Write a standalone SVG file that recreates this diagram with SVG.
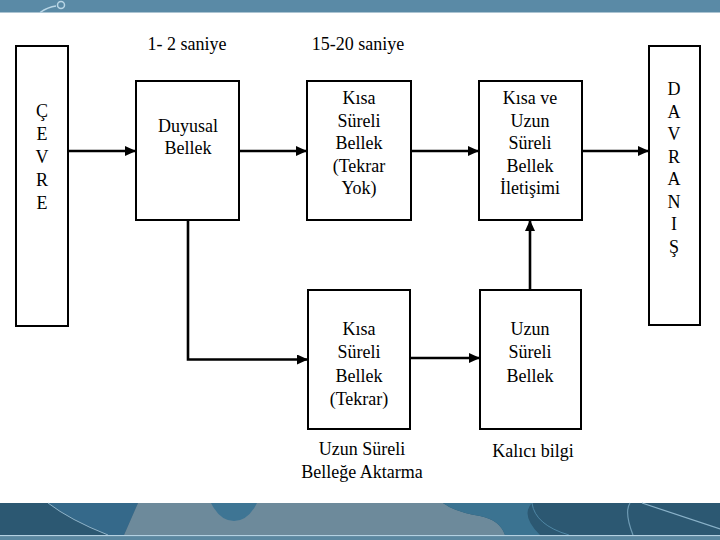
<svg xmlns="http://www.w3.org/2000/svg" width="720" height="540" viewBox="0 0 720 540">
<defs>
<style>
.box{fill:#fff;stroke:#000;stroke-width:2}
.t{font-family:'Liberation Serif','DejaVu Serif','Times New Roman',serif;font-size:18px;fill:#000;text-anchor:middle}
.c{fill:none;stroke:#000;stroke-width:2.6}
</style>
<marker id="ah" markerUnits="userSpaceOnUse" markerWidth="12" markerHeight="10" refX="11" refY="5" orient="auto">
<path d="M0,0 L11,5 L0,10 z" fill="#000"/>
</marker>
</defs>
<rect width="720" height="540" fill="#fff"/>
<g id="topband">
<rect x="0" y="0" width="720" height="12.5" fill="#5a8aa6"/>
<path d="M40,12.5 Q48,7 56,6" fill="none" stroke="#b9d6e6" stroke-width="1.5"/>
<circle cx="61" cy="5" r="3.5" fill="none" stroke="#b9d6e6" stroke-width="1.5"/>
</g>
<g id="bottomband">
<rect x="0" y="503" width="720" height="37" fill="#2c5872"/>
<path d="M48,503 Q70,520 108,535 L124,535 L138,503 z" fill="#35698a"/>
<path d="M138,503 L124,535 L505,535 Q500,520 480,516 Q455,512 443,503 z" fill="#6d8a9b"/>
<path d="M211,503 Q220,521 234,521 Q248,521 257,503 z" fill="#3e7594"/>
<path d="M443,503 Q455,512 480,516 Q500,520 505,535 L540,535 Q520,515 532,503 z" fill="#3b7391"/>
<path d="M48,503 Q70,520 108,535" fill="none" stroke="#8fb3c8" stroke-width="1"/>
<path d="M532,503 Q535,525 569,535" fill="none" stroke="#4f87a5" stroke-width="1"/>
<path d="M630,503 Q624,512 633,535" fill="none" stroke="#6e9bb4" stroke-width="1.2"/>
<path d="M642,503 L720,529" fill="none" stroke="#8ab2c9" stroke-width="1.2"/>
<rect x="0" y="535" width="720" height="1.5" fill="#b4d1e2"/>
<rect x="0" y="536.5" width="720" height="3.5" fill="#5a87a0"/>
</g>
<g id="labels" font-family="Liberation Serif, DejaVu Serif, serif">
<text class="t" x="187" y="50">1- 2 saniye</text>
<text class="t" x="358" y="50">15-20 saniye</text>
</g>
<g id="connectors">
<line class="c" x1="68" y1="151" x2="136" y2="151" marker-end="url(#ah)"/>
<line class="c" x1="239" y1="151" x2="307" y2="151" marker-end="url(#ah)"/>
<line class="c" x1="411" y1="151" x2="479" y2="151" marker-end="url(#ah)"/>
<line class="c" x1="582" y1="151" x2="649" y2="151" marker-end="url(#ah)"/>
<polyline class="c" points="188,220 188,359.5 308,359.5" stroke-width="3" marker-end="url(#ah)"/>
<line class="c" x1="410" y1="358" x2="480" y2="358" stroke-width="3" marker-end="url(#ah)"/>
<line class="c" x1="530" y1="290" x2="530" y2="220" marker-end="url(#ah)"/>
</g>
<g id="cevre">
<rect class="box" x="16" y="46" width="52" height="280"/>
<text class="t" x="42" y="117">Ç</text>
<text class="t" x="42" y="140">E</text>
<text class="t" x="42" y="163">V</text>
<text class="t" x="42" y="186">R</text>
<text class="t" x="42" y="209">E</text>
</g>
<g id="duyusal">
<rect class="box" x="136" y="81" width="103" height="139"/>
<text class="t" x="188" y="132">Duyusal</text>
<text class="t" x="188" y="154">Bellek</text>
</g>
<g id="kisa-tekraryok">
<rect class="box" x="307" y="81" width="104" height="139"/>
<text class="t" x="359" y="104">Kısa</text>
<text class="t" x="359" y="127">Süreli</text>
<text class="t" x="359" y="149">Bellek</text>
<text class="t" x="359" y="172">(Tekrar</text>
<text class="t" x="359" y="194">Yok)</text>
</g>
<g id="iletisim">
<rect class="box" x="479" y="81" width="103" height="139"/>
<text class="t" x="530" y="104">Kısa ve</text>
<text class="t" x="530" y="127">Uzun</text>
<text class="t" x="530" y="149">Süreli</text>
<text class="t" x="530" y="172">Bellek</text>
<text class="t" x="530" y="194">İletişimi</text>
</g>
<g id="davranis">
<rect class="box" x="649" y="46" width="51" height="279"/>
<text class="t" x="674" y="95">D</text>
<text class="t" x="674" y="118">A</text>
<text class="t" x="674" y="140">V</text>
<text class="t" x="674" y="163">R</text>
<text class="t" x="674" y="185">A</text>
<text class="t" x="674" y="208">N</text>
<text class="t" x="674" y="230">I</text>
<text class="t" x="674" y="253">Ş</text>
</g>
<g id="kisa-tekrar">
<rect class="box" x="308" y="290" width="102" height="139"/>
<text class="t" x="359" y="335">Kısa</text>
<text class="t" x="359" y="358">Süreli</text>
<text class="t" x="359" y="382">Bellek</text>
<text class="t" x="359" y="405">(Tekrar)</text>
<text class="t" x="362" y="455">Uzun Süreli</text>
<text class="t" x="362" y="478">Belleğe Aktarma</text>
</g>
<g id="uzun">
<rect class="box" x="480" y="290" width="101" height="139"/>
<text class="t" x="530" y="335">Uzun</text>
<text class="t" x="530" y="358">Süreli</text>
<text class="t" x="530" y="382">Bellek</text>
<text class="t" x="533" y="457">Kalıcı bilgi</text>
</g>
</svg>
